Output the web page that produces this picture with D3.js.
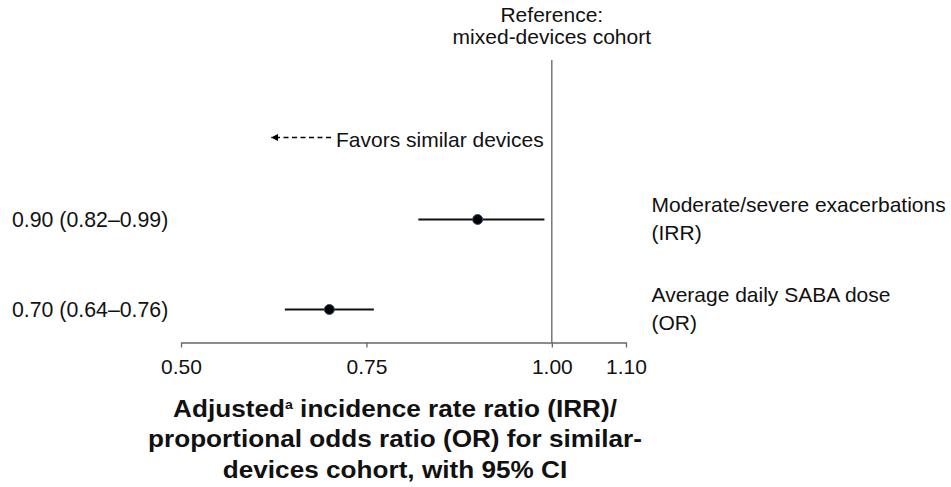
<!DOCTYPE html>
<html>
<head>
<meta charset="utf-8">
<script src="https://cdn.jsdelivr.net/npm/d3@7"></script>
<style>
  html, body { margin: 0; padding: 0; background: #fff; }
  svg { display: block; font-family: "Liberation Sans", Arial, sans-serif; }
</style>
</head>
<body>
<svg id="chart" width="951" height="487"></svg>
<script>
// ---- data ----
const outcomes = ['Moderate/severe exacerbations', 'Average daily SABA dose'];
const measures = ['IRR', 'OR'];
const estimates = [0.90, 0.70];
const lowerCI = [0.82, 0.64];
const upperCI = [0.99, 0.76];
const tickValues = [0.50, 0.75, 1.00, 1.10];
const referenceValue = 1.00;

const W = 951, H = 487;
const FS = '21px';
const svg = d3.select('#chart');

// ---- scales ----
const x = d3.scaleLinear().domain([0.50, 1.10]).range([181, 626]);
const y = d3.scalePoint().domain(outcomes).range([219.5, 309.5]);
const axisY = 342.5;

const fmt = d3.format('.2f');
const rows = outcomes.map((o, i) => ({
  outcome: o, measure: measures[i], est: estimates[i], lo: lowerCI[i], hi: upperCI[i]
}));

// reference label
const refLabel = svg.append('text')
  .attr('text-anchor', 'middle')
  .attr('font-size', FS)
  .attr('fill', '#111');
refLabel.append('tspan').attr('x', x(referenceValue)).attr('y', 21.5).text('Reference:');
refLabel.append('tspan').attr('x', x(referenceValue)).attr('y', 43.5).text('mixed-devices cohort');

// reference line
svg.append('line')
  .attr('x1', x(referenceValue)).attr('x2', x(referenceValue))
  .attr('y1', 60).attr('y2', axisY)
  .attr('stroke', '#555').attr('stroke-width', 1.2);

// "favors" annotation with dashed arrow
const defs = svg.append('defs');
defs.append('marker')
  .attr('id', 'arrowhead')
  .attr('viewBox', '0 -5 10 10')
  .attr('refX', 10).attr('refY', 0)
  .attr('markerWidth', 8).attr('markerHeight', 7)
  .attr('markerUnits', 'userSpaceOnUse')
  .attr('orient', 'auto')
  .append('path').attr('d', 'M0,-5L10,0L0,5Z').attr('fill', '#000');

svg.append('line')
  .attr('x1', 331).attr('x2', 271)
  .attr('y1', 137.5).attr('y2', 137.5)
  .attr('stroke', '#000').attr('stroke-width', 1.5)
  .attr('stroke-dasharray', '5,3.5')
  .attr('marker-end', 'url(#arrowhead)');

svg.append('text')
  .attr('x', 336).attr('y', 146.5)
  .attr('font-size', FS).attr('fill', '#111')
  .text('Favors similar devices');

// ---- axis ----
const axis = svg.append('g')
  .attr('transform', `translate(0,${axisY})`)
  .call(d3.axisBottom(x).tickValues(tickValues).tickFormat(fmt).tickSize(5).tickSizeOuter(0).tickPadding(12));
axis.select('.domain').attr('stroke', '#666').attr('stroke-width', 1.3);
axis.selectAll('.tick line').attr('stroke', '#666').attr('stroke-width', 1.3);
axis.selectAll('.tick text')
  .attr('font-size', FS)
  .attr('font-family', '"Liberation Sans", Arial, sans-serif')
  .attr('fill', '#111');

// ---- CI lines and points ----
const g = svg.append('g');
g.selectAll('line.ci').data(rows).join('line')
  .attr('class', 'ci')
  .attr('x1', d => x(d.lo)).attr('x2', d => x(d.hi))
  .attr('y1', d => y(d.outcome)).attr('y2', d => y(d.outcome))
  .attr('stroke', '#111').attr('stroke-width', 2);

g.selectAll('circle.pt').data(rows).join('circle')
  .attr('class', 'pt')
  .attr('cx', d => x(d.est)).attr('cy', d => y(d.outcome))
  .attr('r', 5)
  .attr('fill', '#000')
  .attr('stroke', '#2d4f7a').attr('stroke-width', 1);

// left estimate labels
svg.selectAll('text.est').data(rows).join('text')
  .attr('class', 'est')
  .attr('x', 12).attr('y', d => y(d.outcome) + 7)
  .attr('font-size', '21.3px').attr('fill', '#111')
  .text(d => `${fmt(d.est)} (${fmt(d.lo)}–${fmt(d.hi)})`);

// right outcome labels (two lines, row value sits between them)
const rl = svg.selectAll('text.outcome').data(rows).join('text')
  .attr('class', 'outcome')
  .attr('font-size', FS).attr('fill', '#111');
rl.append('tspan')
  .attr('x', 651.5).attr('y', d => y(d.outcome) - 7.5)
  .text(d => d.outcome);
rl.append('tspan')
  .attr('x', 651.5).attr('y', d => y(d.outcome) + 20.5)
  .text(d => `(${d.measure})`);

// ---- title (slightly wide bold face) ----
const title = svg.append('text')
  .attr('transform', 'translate(395,0) scale(1.09,1)')
  .attr('text-anchor', 'middle')
  .attr('font-size', '24px').attr('font-weight', 'bold').attr('fill', '#111');
const t1 = title.append('tspan').attr('x', 0).attr('y', 417);
t1.append('tspan').text('Adjusted');
t1.append('tspan').attr('font-size', '13px').attr('dy', -8).text('a');
t1.append('tspan').attr('dy', 8).text(' incidence rate ratio (IRR)/');
title.append('tspan').attr('x', 0).attr('y', 447.5).text('proportional odds ratio (OR) for similar-');
title.append('tspan').attr('x', 0).attr('y', 478).text('devices cohort, with 95% CI');
</script>
</body>
</html>
